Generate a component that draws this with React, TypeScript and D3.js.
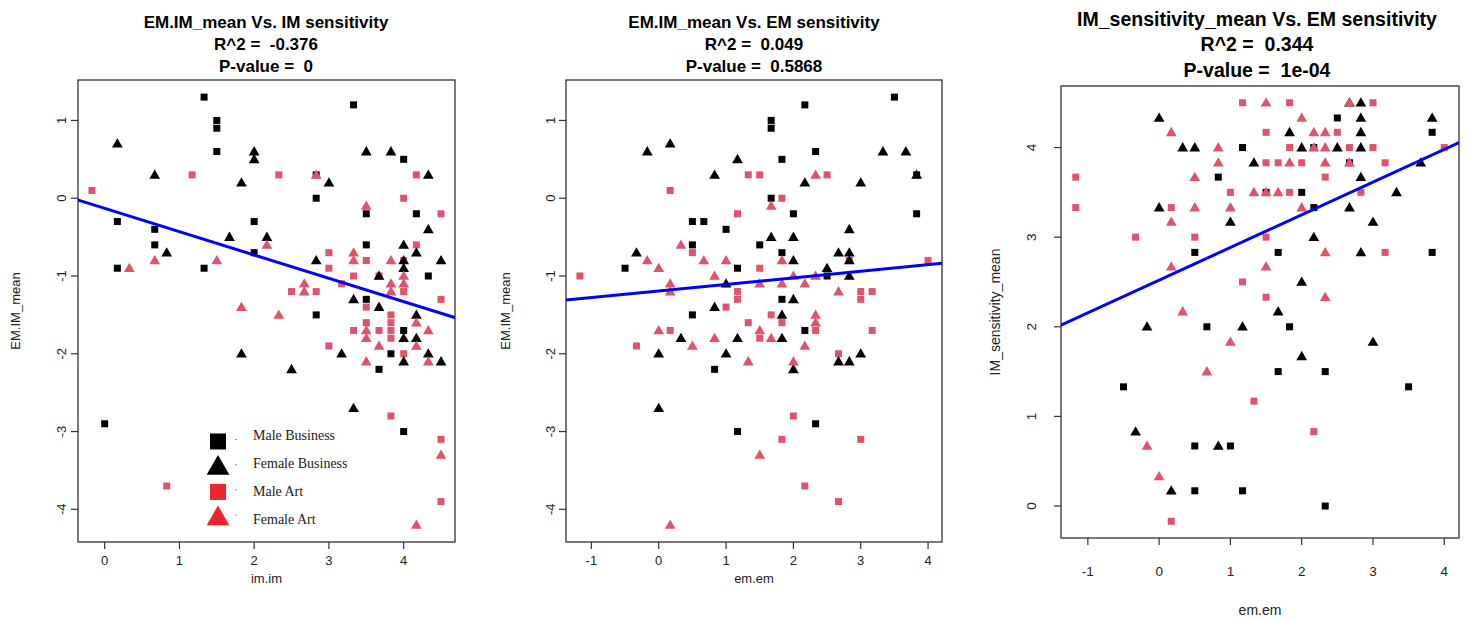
import React from "react";
import * as d3 from "d3";

type Pt = [number, number];

// ---------- Panel 1: EM.IM_mean vs im.im ----------
const p1MaleBusiness: Pt[] = [[1.33,1.3],[1.5,1.0],[1.5,0.9],[1.5,0.6],[0.17,-0.3],[2,-0.3],[0.67,-0.4],[0.67,-0.6],[2,-0.7],[0.17,-0.9],[1.33,-0.9],[3.33,1.2],[4,0.5],[2.83,0.3],[2.83,0],[3.5,-0.2],[4.17,-0.2],[3.5,-0.6],[4.33,-1.0],[3.5,-1.3],[2.83,-1.5],[4,-1.7],[3.83,-2.0],[3.67,-2.2],[4,-3.0],[0,-2.9]];
const p1FemaleBusiness: Pt[] = [[0.17,0.7],[2,0.6],[2,0.5],[0.67,0.3],[1.83,0.2],[1.67,-0.5],[2.17,-0.5],[0.83,-0.7],[3.5,0.6],[3.83,0.6],[3,0.2],[4.33,0.3],[4.33,-0.4],[4,-0.6],[4.17,-0.7],[4,-0.8],[4.5,-0.8],[2.83,-0.8],[4,-0.9],[3.67,-1.0],[3.33,-1.3],[3.67,-1.4],[4.17,-1.5],[4,-1.8],[4.17,-1.8],[3.17,-2.0],[4.33,-2.0],[4,-2.1],[4.5,-2.1],[2.5,-2.2],[1.83,-2.0],[3.33,-2.7]];
const p1MaleArt: Pt[] = [[1.17,0.3],[-0.17,0.1],[2.33,0.3],[4.17,0.3],[4,0],[4.5,-0.2],[4.17,-0.6],[3,-0.7],[3.5,-0.8],[4,-0.8],[3,-0.9],[3.33,-1.0],[3.67,-1.0],[3.17,-1.1],[2.5,-1.2],[2.83,-1.2],[4,-1.2],[4.5,-1.3],[3.5,-1.4],[3.83,-1.5],[3.5,-1.6],[3.83,-1.6],[3.33,-1.7],[3.67,-1.7],[3.83,-1.7],[3.83,-1.8],[3,-1.9],[4,-2.0],[3.83,-2.8],[0.83,-3.7],[4.5,-3.1],[4.5,-3.9]];
const p1FemaleArt: Pt[] = [[2.17,-0.6],[0.67,-0.8],[1.5,-0.8],[0.33,-0.9],[1.83,-1.4],[2.83,0.3],[3.5,-0.1],[3.33,-0.7],[3.33,-0.8],[3.83,-0.8],[4,-1.0],[2.67,-1.1],[3.83,-1.1],[4,-1.1],[2.67,-1.2],[3.83,-1.2],[2.33,-1.5],[4.17,-1.6],[3.5,-1.7],[4.33,-1.7],[3.5,-1.8],[3.67,-1.9],[4.17,-1.9],[3.5,-2.1],[4.33,-2.1],[4.5,-3.3],[4.17,-4.2]];

// ---------- Panel 2: EM.IM_mean vs em.em ----------
const p2MaleBusiness: Pt[] = [[3.5,1.3],[2.17,1.2],[1.67,1.0],[1.67,0.9],[2.33,0.6],[1.83,0.5],[3.83,0.3],[1.67,0],[2,-0.2],[3.83,-0.2],[0.5,-0.3],[0.67,-0.3],[1,-0.4],[0.5,-0.6],[1.5,-0.6],[1.83,-0.7],[1.17,-0.9],[-0.5,-0.9],[2.5,-1.0],[1.83,-1.3],[0.5,-1.5],[2.17,-1.7],[0.83,-2.2],[2.33,-2.9],[1.17,-3.0]];
const p2FemaleBusiness: Pt[] = [[-0.17,0.6],[0.17,0.7],[1.17,0.5],[0.83,0.3],[3.33,0.6],[3.67,0.6],[2.17,0.2],[3,0.2],[3.83,0.3],[2.83,-0.4],[1.67,-0.5],[2,-0.5],[-0.33,-0.7],[2.67,-0.7],[2.83,-0.7],[2,-0.8],[2.83,-0.8],[2.5,-0.9],[2.83,-1.0],[1,-1.1],[2,-1.3],[0.83,-1.4],[1.83,-1.5],[0.33,-1.8],[1.17,-1.8],[1.83,-1.8],[0,-2.0],[1,-2.0],[3,-2.0],[2.67,-2.1],[2.83,-2.1],[2,-2.2],[0,-2.7]];
const p2MaleArt: Pt[] = [[0.17,0.1],[1.33,0.3],[1.5,0.3],[2.5,0.3],[1.17,-0.2],[1.83,0],[0.5,-0.7],[-1.17,-1.0],[2.83,-0.8],[4,-0.8],[1.5,-0.9],[1.17,-1.2],[3,-1.2],[3.17,-1.2],[1.17,-1.3],[3,-1.3],[1,-1.4],[1.67,-1.5],[1.33,-1.6],[1.83,-1.6],[0.17,-1.7],[2.33,-1.7],[3.17,-1.7],[1.5,-1.8],[-0.33,-1.9],[2.67,-2.0],[2,-2.8],[1.83,-3.1],[3,-3.1],[2.17,-3.7],[2.67,-3.9]];
const p2FemaleArt: Pt[] = [[0.33,-0.6],[-0.17,-0.8],[0.67,-0.8],[1,-0.8],[0,-0.9],[0.83,-1.0],[0.17,-1.1],[0.17,-1.2],[2.33,0.3],[1.67,-0.1],[1.83,-0.8],[2,-1.0],[2.33,-1.0],[1.5,-1.1],[1.83,-1.1],[2.17,-1.1],[2.67,-1.2],[2.33,-1.5],[2.33,-1.6],[0,-1.7],[1.5,-1.7],[0.83,-1.8],[1.67,-1.8],[0.5,-1.9],[2.17,-1.9],[1.33,-2.1],[2,-2.1],[1.5,-3.3],[0.17,-4.2]];

// ---------- Panel 3: IM_sensitivity_mean vs em.em ----------
const p3MaleBusiness: Pt[] = [[1.17,4],[0.83,3.67],[0.5,2.83],[2.5,4.33],[3.83,4.17],[2.17,4],[2.67,3.83],[1.5,3.5],[2,3.5],[2.17,3.33],[1.67,2.83],[3.83,2.83],[0.67,2],[1.83,2],[1.67,1.5],[2.33,1.5],[-0.5,1.33],[3.5,1.33],[0.5,0.67],[1,0.67],[0.5,0.17],[1.17,0.17],[2.33,0]];
const p3FemaleBusiness: Pt[] = [[0,4.33],[0.33,4],[0.5,4],[1.33,3.83],[0,3.33],[1,3.17],[2.67,4.5],[2.83,4.5],[2.83,4.33],[3.83,4.33],[1.83,4.17],[2.83,4.17],[2,4],[2.5,4],[2.83,4],[3.67,3.83],[2.83,3.67],[3.33,3.5],[2.67,3.33],[3,3.17],[2.17,3],[2.83,2.83],[2,2.5],[1.67,2.17],[-0.17,2],[1.17,2],[3,1.83],[2,1.67],[-0.33,0.83],[0.83,0.67],[0.17,0.17]];
const p3MaleArt: Pt[] = [[1.17,4.5],[1.5,3.83],[-1.17,3.67],[1,3.5],[-1.17,3.33],[0.17,3.33],[-0.33,3],[0.5,3],[1.17,2.5],[1.83,4.5],[3,4.5],[1.5,4.17],[2.5,4.17],[1.83,4],[2.67,4],[3,4],[4,4],[1.67,3.83],[2,3.83],[3.17,3.83],[2.33,3.67],[1.83,3.5],[2.83,3.5],[1.5,3],[3.17,2.83],[1.5,2.33],[1.33,1.17],[2.17,0.83],[0.17,-0.17]];
const p3FemaleArt: Pt[] = [[0.17,4.17],[0.83,4],[0.83,3.83],[0.5,3.67],[1.33,3.5],[0.5,3.33],[1,3.33],[0.17,3.17],[0.17,2.67],[0.33,2.17],[1.5,4.5],[2.67,4.5],[2,4.33],[2.17,4.17],[2.33,4.17],[2.17,4],[2.33,4],[1.83,3.83],[2.33,3.83],[2.67,3.83],[1.5,3.5],[1.67,3.5],[2,3.33],[2.33,2.83],[1.5,2.67],[2.33,2.33],[1,1.83],[0.67,1.5],[-0.17,0.67],[0,0.33]];

// ---------- Fits, ticks, labels ----------
const fitIntercepts = [-0.13, -1.193, 2.52];
const fitSlopes = [-0.3, 0.0845, 0.365];
const titles = ["EM.IM_mean Vs. IM sensitivity", "EM.IM_mean Vs. EM sensitivity", "IM_sensitivity_mean Vs. EM sensitivity"];
const r2Labels = ["R^2 =  -0.376", "R^2 =  0.049", "R^2 =  0.344"];
const pLabels = ["P-value =  0", "P-value =  0.5868", "P-value =  1e-04"];
const xTitles = ["im.im", "em.em", "em.em"];
const yTitles = ["EM.IM_mean", "EM.IM_mean", "IM_sensitivity_mean"];
const p1XTicks = [0, 1, 2, 3, 4];
const p2XTicks = [-1, 0, 1, 2, 3, 4];
const p3XTicks = [-1, 0, 1, 2, 3, 4];
const p12YTicks = [-4, -3, -2, -1, 0, 1];
const p3YTicks = [0, 1, 2, 3, 4];
const legendLabels = ["Male Business", "Female Business", "Male Art", "Female Art"];

const BLACK = "#000000";
const PINK = "#DF536B";
const LEGEND_RED = "#E8262B";
const BLUE = "#0000FF";
const AXIS = "#333333";
const SANS = "'Liberation Sans', Arial, sans-serif";

interface Layout {
  left: number; right: number; top: number; bottom: number;
  titleY: number[]; titleSize: number;
  xTickLabelY: number; xTitleY: number; yTickLabelX: number; yTitleX: number;
  tickFont: number; axisFont: number; cx: number;
}

const layouts: Layout[] = [
  { left: 78, right: 455, top: 80, bottom: 542, titleY: [22, 44, 66], titleSize: 17, xTickLabelY: 560, xTitleY: 578, yTickLabelX: 61, yTitleX: 15, tickFont: 13, axisFont: 13, cx: 266 },
  { left: 566, right: 942, top: 80, bottom: 542, titleY: [22, 44, 66], titleSize: 17, xTickLabelY: 560, xTitleY: 578, yTickLabelX: 550, yTitleX: 505, tickFont: 13, axisFont: 13, cx: 754 },
  { left: 1061, right: 1459, top: 86, bottom: 538, titleY: [19, 44, 70], titleSize: 19.5, xTickLabelY: 571, xTitleY: 610, yTickLabelX: 1031, yTitleX: 995, tickFont: 13.5, axisFont: 14, cx: 1257 },
];

function extRange(vals: number[]): [number, number] {
  const [mn, mx] = d3.extent(vals) as [number, number];
  const pad = (mx - mn) * 0.04;
  return [mn - pad, mx + pad];
}

function Marker({ x, y, shape, color, size }: { x: number; y: number; shape: string; color: string; size: number }) {
  if (shape === "square") {
    return <rect x={x - size / 2} y={y - size / 2} width={size} height={size} fill={color} />;
  }
  const p = d3.symbol(d3.symbolTriangle, (size * size) * 0.62)();
  return <path d={p || ""} transform={`translate(${x},${y + size * 0.08})`} fill={color} />;
}

function TitleText({ x, y, children }: { x: number; y: number; children: string }) {
  return (
    <text x={x} y={y} dominantBaseline="central" xmlSpace="preserve" style={{ whiteSpace: "pre" }}>{children}</text>
  );
}

function Panel({ idx, groups, xTicks, yTicks, legend }: { idx: number; groups: Pt[][]; xTicks: number[]; yTicks: number[]; legend?: boolean }) {
  const L = layouts[idx];
  const all = groups.flat();
  const x = d3.scaleLinear().domain(extRange(all.map((d) => d[0]))).range([L.left, L.right]);
  const y = d3.scaleLinear().domain(extRange(all.map((d) => d[1]))).range([L.bottom, L.top]);
  const shapes = ["square", "square", "triangle", "triangle"];
  const colors = [BLACK, PINK, BLACK, PINK];
  const [x0, x1] = x.domain();
  const fitLine = d3.line<number>().x((v) => x(v)).y((v) => y(fitIntercepts[idx] + fitSlopes[idx] * v));
  const clipId = `clip${idx}`;
  return (
    <g>
      <defs>
        <clipPath id={clipId}>
          <rect x={L.left} y={L.top} width={L.right - L.left} height={L.bottom - L.top} />
        </clipPath>
      </defs>
      <g fontFamily={SANS} fontWeight="bold" fontSize={L.titleSize} textAnchor="middle" fill="#000">
        <TitleText x={L.cx} y={L.titleY[0]}>{titles[idx]}</TitleText>
        <TitleText x={L.cx} y={L.titleY[1]}>{r2Labels[idx]}</TitleText>
        <TitleText x={L.cx} y={L.titleY[2]}>{pLabels[idx]}</TitleText>
      </g>
      <rect x={L.left} y={L.top} width={L.right - L.left} height={L.bottom - L.top} fill="none" stroke={AXIS} strokeWidth={1.3} />
      {xTicks.map((t) => (
        <g key={"xt" + t}>
          <line x1={x(t)} x2={x(t)} y1={L.bottom} y2={L.bottom + 7} stroke={AXIS} strokeWidth={1.2} />
          <text x={x(t)} y={L.xTickLabelY} textAnchor="middle" dominantBaseline="central" fontFamily={SANS} fontSize={L.tickFont} fill="#222">{t}</text>
        </g>
      ))}
      {yTicks.map((t) => (
        <g key={"yt" + t}>
          <line x1={L.left - 7} x2={L.left} y1={y(t)} y2={y(t)} stroke={AXIS} strokeWidth={1.2} />
          <text transform={`translate(${L.yTickLabelX},${y(t)}) rotate(-90)`} textAnchor="middle" dominantBaseline="central" fontFamily={SANS} fontSize={L.tickFont} fill="#222">{t}</text>
        </g>
      ))}
      <text x={(L.left + L.right) / 2} y={L.xTitleY} textAnchor="middle" dominantBaseline="central" fontFamily={SANS} fontSize={L.axisFont} fill="#222">{xTitles[idx]}</text>
      <text transform={`translate(${L.yTitleX},${(L.top + L.bottom) / 2}) rotate(-90)`} textAnchor="middle" dominantBaseline="central" fontFamily={SANS} fontSize={L.axisFont} fill="#222">{yTitles[idx]}</text>
      <g>
        {groups.map((g, gi) => g.map((d, i) => (
          <Marker key={gi + "-" + i} x={x(d[0])} y={y(d[1])} shape={shapes[gi]} color={colors[gi]} size={shapes[gi] === "square" ? 7 : 9} />
        )))}
      </g>
      <path d={fitLine([x0 - 1, x1 + 1]) || ""} stroke={BLUE} strokeWidth={3} fill="none" clipPath={`url(#${clipId})`} />
      {legend && (
        <g>
          {legendLabels.map((lab, i) => {
            const sy = 441.5 + i * 25.2;
            const ty = 435 + i * 28.1;
            const shape = i % 2 === 0 ? "square" : "triangle";
            const col = i < 2 ? BLACK : LEGEND_RED;
            return (
              <g key={lab}>
                <Marker x={218} y={sy} shape={shape} color={col} size={shape === "square" ? 16 : 19} />
                <line x1={235} x2={237} y1={sy - 2} y2={sy - 2} stroke="#999" strokeWidth={1} />
                <text x={253} y={ty} dominantBaseline="central" fontFamily="'Liberation Serif', 'Times New Roman', serif" fontSize={14} fill="#222">{lab}</text>
              </g>
            );
          })}
        </g>
      )}
    </g>
  );
}

export default function App() {
  return (
    <svg width={1470} height={620} style={{ position: "absolute", left: 0, top: 0, background: "#fff" }}>
      <rect x={0} y={0} width={1470} height={620} fill="#fff" />
      <Panel idx={0} groups={[p1MaleBusiness, p1MaleArt, p1FemaleBusiness, p1FemaleArt]} xTicks={p1XTicks} yTicks={p12YTicks} legend />
      <Panel idx={1} groups={[p2MaleBusiness, p2MaleArt, p2FemaleBusiness, p2FemaleArt]} xTicks={p2XTicks} yTicks={p12YTicks} />
      <Panel idx={2} groups={[p3MaleBusiness, p3MaleArt, p3FemaleBusiness, p3FemaleArt]} xTicks={p3XTicks} yTicks={p3YTicks} />
    </svg>
  );
}
